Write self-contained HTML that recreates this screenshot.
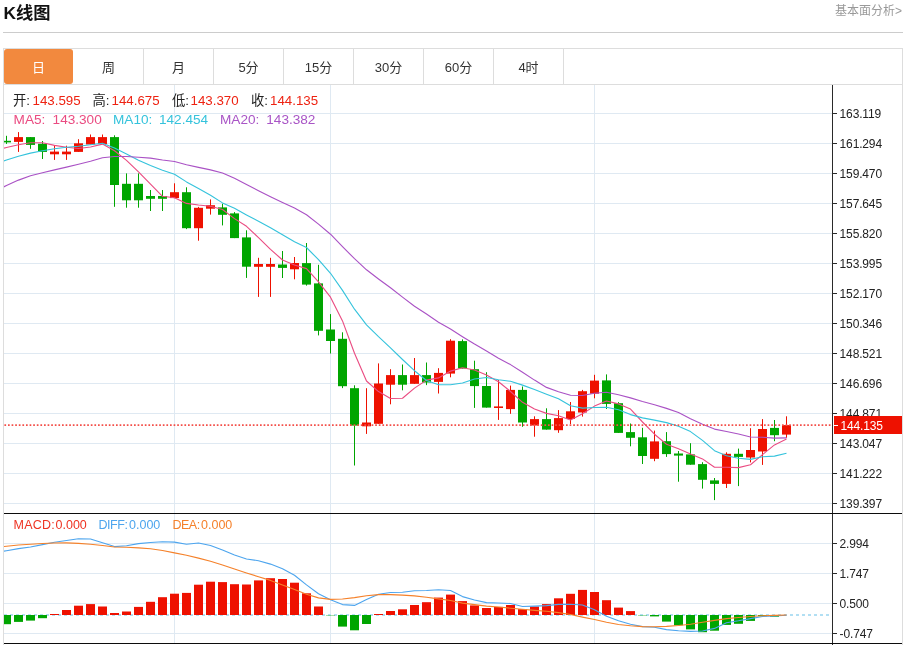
<!DOCTYPE html>
<html lang="zh-CN"><head><meta charset="utf-8"><title>K线图</title>
<style>
html,body{margin:0;padding:0;background:#fff;}
body{width:908px;height:645px;position:relative;overflow:hidden;font-family:"Liberation Sans","Noto Sans CJK SC",sans-serif;}
.abs{position:absolute;white-space:nowrap;}
.title{left:3.5px;top:0.5px;font-size:17.3px;font-weight:bold;color:#111;line-height:24px;}
.more{right:6px;top:2px;font-size:12px;color:#999;line-height:18px;}
.hr{left:3px;top:32px;width:900px;height:1px;background:#ccc;}
.box{left:3px;top:48px;width:900px;height:597px;border:1px solid #ddd;border-bottom:none;box-sizing:border-box;}
.tabs{left:4px;top:49px;width:898px;height:35px;border-bottom:1px solid #ddd;}
.tab{position:absolute;top:0;width:70px;height:35px;line-height:37px;text-align:center;font-size:13px;color:#333;border-right:1px solid #ddd;box-sizing:border-box;}
.tab.on{background:#f2893e;color:#fff;border-radius:3px;border-right:none;width:69px;}
.lg{font-size:13.3px;line-height:16px;}
.lgb{font-size:13.6px;line-height:16px;}
.lg2{font-size:12.5px;line-height:16px;}
</style></head><body>
<div class="abs title">K线图</div>
<div class="abs more">基本面分析&gt;</div>
<div class="abs hr"></div>
<div class="abs box"></div>
<div class="abs tabs">
<div class="tab on" style="left:0">日</div>
<div class="tab" style="left:70px">周</div>
<div class="tab" style="left:140px">月</div>
<div class="tab" style="left:210px">5分</div>
<div class="tab" style="left:280px">15分</div>
<div class="tab" style="left:350px">30分</div>
<div class="tab" style="left:420px">60分</div>
<div class="tab" style="left:490px">4时</div>
</div>
<svg width="908" height="645" viewBox="0 0 908 645" style="position:absolute;left:0;top:0">
<defs><clipPath id="cp"><rect x="4" y="85" width="828" height="560"/></clipPath></defs>
<g shape-rendering="crispEdges" stroke="#dfe9f2" stroke-width="1">
<line x1="4" y1="113.5" x2="832" y2="113.5"/>
<line x1="4" y1="143.5" x2="832" y2="143.5"/>
<line x1="4" y1="173.5" x2="832" y2="173.5"/>
<line x1="4" y1="203.5" x2="832" y2="203.5"/>
<line x1="4" y1="233.5" x2="832" y2="233.5"/>
<line x1="4" y1="263.5" x2="832" y2="263.5"/>
<line x1="4" y1="293.5" x2="832" y2="293.5"/>
<line x1="4" y1="323.5" x2="832" y2="323.5"/>
<line x1="4" y1="353.5" x2="832" y2="353.5"/>
<line x1="4" y1="383.5" x2="832" y2="383.5"/>
<line x1="4" y1="413.5" x2="832" y2="413.5"/>
<line x1="4" y1="443.5" x2="832" y2="443.5"/>
<line x1="4" y1="473.5" x2="832" y2="473.5"/>
<line x1="4" y1="503.5" x2="832" y2="503.5"/>
<line x1="4" y1="543.5" x2="832" y2="543.5"/>
<line x1="4" y1="573.5" x2="832" y2="573.5"/>
<line x1="4" y1="603.5" x2="832" y2="603.5"/>
<line x1="4" y1="633.5" x2="832" y2="633.5"/>
<line x1="174.5" y1="85" x2="174.5" y2="643"/>
<line x1="330.5" y1="85" x2="330.5" y2="643"/>
<line x1="594.5" y1="85" x2="594.5" y2="643"/>
</g>
<line x1="4" y1="615" x2="832" y2="615" stroke="#b2dff3" stroke-width="2" stroke-dasharray="3 3" shape-rendering="crispEdges"/>
<g clip-path="url(#cp)">
<rect x="6" y="135.8" width="1" height="8.1" fill="#00a500"/>
<rect x="2" y="140.8" width="9" height="1.6" fill="#00a500"/>
<rect x="18" y="132.1" width="1" height="19.8" fill="#ee1100"/>
<rect x="14" y="137.1" width="9" height="4.8" fill="#ee1100"/>
<rect x="30" y="137.1" width="1" height="11.7" fill="#00a500"/>
<rect x="26" y="137.1" width="9" height="7.8" fill="#00a500"/>
<rect x="42" y="141.0" width="1" height="18.0" fill="#00a500"/>
<rect x="38" y="143.8" width="9" height="8.1" fill="#00a500"/>
<rect x="54" y="145.7" width="1" height="14.2" fill="#ee1100"/>
<rect x="50" y="151.6" width="9" height="2.7" fill="#ee1100"/>
<rect x="66" y="145.7" width="1" height="14.2" fill="#ee1100"/>
<rect x="62" y="151.6" width="9" height="2.7" fill="#ee1100"/>
<rect x="78" y="139.2" width="1" height="12.7" fill="#ee1100"/>
<rect x="74" y="143.3" width="9" height="8.6" fill="#ee1100"/>
<rect x="90" y="134.5" width="1" height="10.0" fill="#ee1100"/>
<rect x="86" y="137.1" width="9" height="7.4" fill="#ee1100"/>
<rect x="102" y="134.5" width="1" height="9.6" fill="#ee1100"/>
<rect x="98" y="137.1" width="9" height="7.0" fill="#ee1100"/>
<rect x="114" y="135.3" width="1" height="71.5" fill="#00a500"/>
<rect x="110" y="137.1" width="9" height="47.9" fill="#00a500"/>
<rect x="126" y="173.4" width="1" height="34.3" fill="#00a500"/>
<rect x="122" y="183.8" width="9" height="16.5" fill="#00a500"/>
<rect x="138" y="173.4" width="1" height="34.3" fill="#00a500"/>
<rect x="134" y="183.8" width="9" height="16.5" fill="#00a500"/>
<rect x="150" y="190.0" width="1" height="21.0" fill="#00a500"/>
<rect x="146" y="196.0" width="9" height="2.8" fill="#00a500"/>
<rect x="162" y="190.0" width="1" height="21.0" fill="#00a500"/>
<rect x="158" y="196.0" width="9" height="2.8" fill="#00a500"/>
<rect x="174" y="183.3" width="1" height="14.8" fill="#ee1100"/>
<rect x="170" y="192.2" width="9" height="5.9" fill="#ee1100"/>
<rect x="186" y="187.3" width="1" height="41.8" fill="#00a500"/>
<rect x="182" y="192.2" width="9" height="36.0" fill="#00a500"/>
<rect x="198" y="206.9" width="1" height="33.8" fill="#ee1100"/>
<rect x="194" y="207.8" width="9" height="20.4" fill="#ee1100"/>
<rect x="210" y="199.4" width="1" height="15.2" fill="#ee1100"/>
<rect x="206" y="205.2" width="9" height="3.5" fill="#ee1100"/>
<rect x="222" y="203.7" width="1" height="21.7" fill="#00a500"/>
<rect x="218" y="207.4" width="9" height="7.4" fill="#00a500"/>
<rect x="234" y="212.1" width="1" height="26.0" fill="#00a500"/>
<rect x="230" y="213.4" width="9" height="24.7" fill="#00a500"/>
<rect x="246" y="230.3" width="1" height="47.6" fill="#00a500"/>
<rect x="242" y="237.4" width="9" height="29.3" fill="#00a500"/>
<rect x="258" y="257.8" width="1" height="39.1" fill="#ee1100"/>
<rect x="254" y="264.0" width="9" height="2.8" fill="#ee1100"/>
<rect x="270" y="257.8" width="1" height="39.1" fill="#ee1100"/>
<rect x="266" y="264.0" width="9" height="2.8" fill="#ee1100"/>
<rect x="282" y="251.0" width="1" height="27.0" fill="#00a500"/>
<rect x="278" y="264.5" width="9" height="3.4" fill="#00a500"/>
<rect x="294" y="257.0" width="1" height="22.3" fill="#ee1100"/>
<rect x="290" y="263.0" width="9" height="6.3" fill="#ee1100"/>
<rect x="306" y="243.0" width="1" height="42.6" fill="#00a500"/>
<rect x="302" y="263.1" width="9" height="21.5" fill="#00a500"/>
<rect x="318" y="264.8" width="1" height="70.6" fill="#00a500"/>
<rect x="314" y="283.4" width="9" height="47.4" fill="#00a500"/>
<rect x="330" y="314.1" width="1" height="39.4" fill="#00a500"/>
<rect x="326" y="329.5" width="9" height="11.5" fill="#00a500"/>
<rect x="342" y="332.3" width="1" height="55.8" fill="#00a500"/>
<rect x="338" y="338.8" width="9" height="47.4" fill="#00a500"/>
<rect x="354" y="385.3" width="1" height="80.2" fill="#00a500"/>
<rect x="350" y="388.2" width="9" height="37.4" fill="#00a500"/>
<rect x="366" y="388.2" width="1" height="45.7" fill="#ee1100"/>
<rect x="362" y="422.5" width="9" height="3.8" fill="#ee1100"/>
<rect x="378" y="363.4" width="1" height="60.4" fill="#ee1100"/>
<rect x="374" y="383.5" width="9" height="40.3" fill="#ee1100"/>
<rect x="390" y="369.2" width="1" height="35.1" fill="#ee1100"/>
<rect x="386" y="375.1" width="9" height="9.6" fill="#ee1100"/>
<rect x="402" y="364.5" width="1" height="25.8" fill="#00a500"/>
<rect x="398" y="375.1" width="9" height="9.6" fill="#00a500"/>
<rect x="414" y="358.0" width="1" height="25.8" fill="#ee1100"/>
<rect x="410" y="375.1" width="9" height="8.7" fill="#ee1100"/>
<rect x="426" y="362.5" width="1" height="22.6" fill="#00a500"/>
<rect x="422" y="375.1" width="9" height="7.4" fill="#00a500"/>
<rect x="438" y="368.2" width="1" height="25.3" fill="#ee1100"/>
<rect x="434" y="372.9" width="9" height="9.0" fill="#ee1100"/>
<rect x="450" y="339.2" width="1" height="38.1" fill="#ee1100"/>
<rect x="446" y="340.7" width="9" height="32.9" fill="#ee1100"/>
<rect x="462" y="339.4" width="1" height="29.1" fill="#00a500"/>
<rect x="458" y="341.1" width="9" height="27.4" fill="#00a500"/>
<rect x="474" y="360.7" width="1" height="47.2" fill="#00a500"/>
<rect x="470" y="369.2" width="9" height="16.9" fill="#00a500"/>
<rect x="486" y="372.2" width="1" height="35.4" fill="#00a500"/>
<rect x="482" y="386.0" width="9" height="21.6" fill="#00a500"/>
<rect x="498" y="380.0" width="1" height="39.9" fill="#ee1100"/>
<rect x="494" y="406.4" width="9" height="1.6" fill="#ee1100"/>
<rect x="510" y="385.6" width="1" height="28.2" fill="#ee1100"/>
<rect x="506" y="389.9" width="9" height="19.2" fill="#ee1100"/>
<rect x="522" y="386.5" width="1" height="40.3" fill="#00a500"/>
<rect x="518" y="389.9" width="9" height="32.6" fill="#00a500"/>
<rect x="534" y="416.3" width="1" height="20.4" fill="#ee1100"/>
<rect x="530" y="419.1" width="9" height="6.4" fill="#ee1100"/>
<rect x="546" y="408.3" width="1" height="21.3" fill="#00a500"/>
<rect x="542" y="419.1" width="9" height="10.5" fill="#00a500"/>
<rect x="558" y="410.1" width="1" height="22.7" fill="#ee1100"/>
<rect x="554" y="418.1" width="9" height="12.1" fill="#ee1100"/>
<rect x="570" y="402.0" width="1" height="22.0" fill="#ee1100"/>
<rect x="566" y="411.3" width="9" height="7.7" fill="#ee1100"/>
<rect x="582" y="389.9" width="1" height="26.7" fill="#ee1100"/>
<rect x="578" y="391.2" width="9" height="21.3" fill="#ee1100"/>
<rect x="594" y="374.8" width="1" height="23.5" fill="#ee1100"/>
<rect x="590" y="380.6" width="9" height="13.1" fill="#ee1100"/>
<rect x="606" y="374.4" width="1" height="34.6" fill="#00a500"/>
<rect x="602" y="380.4" width="9" height="23.5" fill="#00a500"/>
<rect x="618" y="402.1" width="1" height="30.8" fill="#00a500"/>
<rect x="614" y="403.2" width="9" height="29.7" fill="#00a500"/>
<rect x="630" y="423.5" width="1" height="22.8" fill="#00a500"/>
<rect x="626" y="432.1" width="9" height="5.7" fill="#00a500"/>
<rect x="642" y="427.8" width="1" height="36.2" fill="#00a500"/>
<rect x="638" y="437.3" width="9" height="18.7" fill="#00a500"/>
<rect x="654" y="430.6" width="1" height="30.6" fill="#ee1100"/>
<rect x="650" y="441.4" width="9" height="17.4" fill="#ee1100"/>
<rect x="666" y="432.1" width="1" height="24.8" fill="#00a500"/>
<rect x="662" y="441.2" width="9" height="12.9" fill="#00a500"/>
<rect x="678" y="451.0" width="1" height="30.7" fill="#00a500"/>
<rect x="674" y="453.5" width="9" height="2.1" fill="#00a500"/>
<rect x="690" y="443.2" width="1" height="21.5" fill="#00a500"/>
<rect x="686" y="454.4" width="9" height="10.3" fill="#00a500"/>
<rect x="702" y="462.2" width="1" height="26.4" fill="#00a500"/>
<rect x="698" y="464.1" width="9" height="15.7" fill="#00a500"/>
<rect x="714" y="478.0" width="1" height="22.1" fill="#00a500"/>
<rect x="710" y="480.4" width="9" height="3.5" fill="#00a500"/>
<rect x="726" y="452.3" width="1" height="35.7" fill="#ee1100"/>
<rect x="722" y="453.8" width="9" height="30.1" fill="#ee1100"/>
<rect x="738" y="448.6" width="1" height="37.5" fill="#00a500"/>
<rect x="734" y="453.8" width="9" height="3.1" fill="#00a500"/>
<rect x="750" y="428.2" width="1" height="34.2" fill="#ee1100"/>
<rect x="746" y="450.0" width="9" height="7.5" fill="#ee1100"/>
<rect x="762" y="419.1" width="1" height="45.8" fill="#ee1100"/>
<rect x="758" y="429.0" width="9" height="22.5" fill="#ee1100"/>
<rect x="774" y="420.0" width="1" height="21.2" fill="#00a500"/>
<rect x="770" y="427.9" width="9" height="7.3" fill="#00a500"/>
<rect x="786" y="416.3" width="1" height="21.5" fill="#ee1100"/>
<rect x="782" y="425.1" width="9" height="9.5" fill="#ee1100"/>
</g>
<g clip-path="url(#cp)" shape-rendering="crispEdges">
<rect x="2" y="615" width="9" height="9.2" fill="#00a500" shape-rendering="auto"/>
<rect x="14" y="615" width="9" height="6.9" fill="#00a500" shape-rendering="auto"/>
<rect x="26" y="615" width="9" height="5.6" fill="#00a500" shape-rendering="auto"/>
<rect x="38" y="615" width="9" height="3.2" fill="#00a500" shape-rendering="auto"/>
<rect x="50" y="614.0" width="9" height="1.0" fill="#ee1100" shape-rendering="auto"/>
<rect x="62" y="610.0" width="9" height="5.0" fill="#ee1100" shape-rendering="auto"/>
<rect x="74" y="605.7" width="9" height="9.3" fill="#ee1100" shape-rendering="auto"/>
<rect x="86" y="604.1" width="9" height="10.9" fill="#ee1100" shape-rendering="auto"/>
<rect x="98" y="606.5" width="9" height="8.5" fill="#ee1100" shape-rendering="auto"/>
<rect x="110" y="613.0" width="9" height="2.0" fill="#ee1100" shape-rendering="auto"/>
<rect x="122" y="611.5" width="9" height="3.5" fill="#ee1100" shape-rendering="auto"/>
<rect x="134" y="606.9" width="9" height="8.1" fill="#ee1100" shape-rendering="auto"/>
<rect x="146" y="601.8" width="9" height="13.2" fill="#ee1100" shape-rendering="auto"/>
<rect x="158" y="597.2" width="9" height="17.8" fill="#ee1100" shape-rendering="auto"/>
<rect x="170" y="593.7" width="9" height="21.3" fill="#ee1100" shape-rendering="auto"/>
<rect x="182" y="592.9" width="9" height="22.1" fill="#ee1100" shape-rendering="auto"/>
<rect x="194" y="584.7" width="9" height="30.3" fill="#ee1100" shape-rendering="auto"/>
<rect x="206" y="581.7" width="9" height="33.3" fill="#ee1100" shape-rendering="auto"/>
<rect x="218" y="582.1" width="9" height="32.9" fill="#ee1100" shape-rendering="auto"/>
<rect x="230" y="584.2" width="9" height="30.8" fill="#ee1100" shape-rendering="auto"/>
<rect x="242" y="584.5" width="9" height="30.5" fill="#ee1100" shape-rendering="auto"/>
<rect x="254" y="580.4" width="9" height="34.6" fill="#ee1100" shape-rendering="auto"/>
<rect x="266" y="578.2" width="9" height="36.8" fill="#ee1100" shape-rendering="auto"/>
<rect x="278" y="579.0" width="9" height="36.0" fill="#ee1100" shape-rendering="auto"/>
<rect x="290" y="582.7" width="9" height="32.3" fill="#ee1100" shape-rendering="auto"/>
<rect x="302" y="593.3" width="9" height="21.7" fill="#ee1100" shape-rendering="auto"/>
<rect x="314" y="606.5" width="9" height="8.5" fill="#ee1100" shape-rendering="auto"/>
<rect x="326" y="615" width="9" height="1" fill="#00a500" opacity="0.35"/>
<rect x="338" y="615" width="9" height="11.6" fill="#00a500" shape-rendering="auto"/>
<rect x="350" y="615" width="9" height="15.3" fill="#00a500" shape-rendering="auto"/>
<rect x="362" y="615" width="9" height="9.0" fill="#00a500" shape-rendering="auto"/>
<rect x="374" y="614.0" width="9" height="1.0" fill="#ee1100" shape-rendering="auto"/>
<rect x="386" y="611.0" width="9" height="4.0" fill="#ee1100" shape-rendering="auto"/>
<rect x="398" y="609.3" width="9" height="5.7" fill="#ee1100" shape-rendering="auto"/>
<rect x="410" y="605.0" width="9" height="10.0" fill="#ee1100" shape-rendering="auto"/>
<rect x="422" y="602.2" width="9" height="12.8" fill="#ee1100" shape-rendering="auto"/>
<rect x="434" y="597.6" width="9" height="17.4" fill="#ee1100" shape-rendering="auto"/>
<rect x="446" y="594.6" width="9" height="20.4" fill="#ee1100" shape-rendering="auto"/>
<rect x="458" y="601.1" width="9" height="13.9" fill="#ee1100" shape-rendering="auto"/>
<rect x="470" y="605.4" width="9" height="9.6" fill="#ee1100" shape-rendering="auto"/>
<rect x="482" y="608.0" width="9" height="7.0" fill="#ee1100" shape-rendering="auto"/>
<rect x="494" y="606.9" width="9" height="8.1" fill="#ee1100" shape-rendering="auto"/>
<rect x="506" y="605.0" width="9" height="10.0" fill="#ee1100" shape-rendering="auto"/>
<rect x="518" y="609.1" width="9" height="5.9" fill="#ee1100" shape-rendering="auto"/>
<rect x="530" y="606.5" width="9" height="8.5" fill="#ee1100" shape-rendering="auto"/>
<rect x="542" y="604.1" width="9" height="10.9" fill="#ee1100" shape-rendering="auto"/>
<rect x="554" y="598.3" width="9" height="16.7" fill="#ee1100" shape-rendering="auto"/>
<rect x="566" y="593.8" width="9" height="21.2" fill="#ee1100" shape-rendering="auto"/>
<rect x="578" y="589.9" width="9" height="25.1" fill="#ee1100" shape-rendering="auto"/>
<rect x="590" y="592.0" width="9" height="23.0" fill="#ee1100" shape-rendering="auto"/>
<rect x="602" y="600.2" width="9" height="14.8" fill="#ee1100" shape-rendering="auto"/>
<rect x="614" y="607.6" width="9" height="7.4" fill="#ee1100" shape-rendering="auto"/>
<rect x="626" y="611.1" width="9" height="3.9" fill="#ee1100" shape-rendering="auto"/>
<rect x="638" y="615" width="9" height="1" fill="#00a500" opacity="0.35"/>
<rect x="650" y="615" width="9" height="1.4" fill="#00a500" shape-rendering="auto"/>
<rect x="662" y="615" width="9" height="6.6" fill="#00a500" shape-rendering="auto"/>
<rect x="674" y="615" width="9" height="10.3" fill="#00a500" shape-rendering="auto"/>
<rect x="686" y="615" width="9" height="14.4" fill="#00a500" shape-rendering="auto"/>
<rect x="698" y="615" width="9" height="17.2" fill="#00a500" shape-rendering="auto"/>
<rect x="710" y="615" width="9" height="15.7" fill="#00a500" shape-rendering="auto"/>
<rect x="722" y="615" width="9" height="9.9" fill="#00a500" shape-rendering="auto"/>
<rect x="734" y="615" width="9" height="8.8" fill="#00a500" shape-rendering="auto"/>
<rect x="746" y="615" width="9" height="5.9" fill="#00a500" shape-rendering="auto"/>
<rect x="758" y="615" width="9" height="1.2" fill="#00a500" shape-rendering="auto"/>
<rect x="770" y="615" width="9" height="1.7" fill="#00a500" shape-rendering="auto"/>
</g>
<g clip-path="url(#cp)">
<polyline points="-5.5,150.5 6.5,147.5 18.5,144.7 30.5,142.7 42.5,142.7 54.5,145.4 66.5,147.3 78.5,148.5 90.5,147.0 102.5,144.1 114.5,150.8 126.5,160.4 138.5,171.8 150.5,184.1 162.5,196.3 174.5,197.8 186.5,203.4 198.5,205.0 210.5,206.3 222.5,209.5 234.5,218.6 246.5,226.3 258.5,237.6 270.5,249.3 282.5,260.0 294.5,265.0 306.5,268.6 318.5,281.9 330.5,297.2 342.5,320.9 354.5,353.3 366.5,381.0 378.5,391.6 390.5,398.5 402.5,398.2 414.5,388.1 426.5,380.1 438.5,377.9 450.5,371.1 462.5,367.8 474.5,370.0 486.5,375.0 498.5,381.7 510.5,391.5 522.5,402.3 534.5,409.0 546.5,413.4 558.5,415.7 570.5,420.0 582.5,413.8 594.5,406.1 606.5,401.0 618.5,403.9 630.5,409.1 642.5,422.0 654.5,434.2 666.5,444.2 678.5,448.7 690.5,454.1 702.5,458.9 714.5,467.3 726.5,467.3 738.5,467.6 750.5,464.7 762.5,454.6 774.5,444.9 786.5,439.1" fill="none" stroke="#ea4c82" stroke-width="1.12" stroke-linejoin="round"/>
<polyline points="-5.5,164.0 6.5,160.0 18.5,156.3 30.5,153.1 42.5,150.7 54.5,148.8 66.5,147.3 78.5,146.2 90.5,144.7 102.5,143.3 114.5,148.1 126.5,153.9 138.5,160.2 150.5,165.6 162.5,170.2 174.5,174.3 186.5,181.9 198.5,188.4 210.5,195.2 222.5,202.9 234.5,208.2 246.5,214.9 258.5,221.3 270.5,227.8 282.5,234.7 294.5,241.8 306.5,247.5 318.5,259.7 330.5,273.3 342.5,290.4 354.5,309.2 366.5,324.8 378.5,336.7 390.5,347.8 402.5,359.5 414.5,370.7 426.5,380.5 438.5,384.8 450.5,384.8 462.5,383.0 474.5,379.0 486.5,377.5 498.5,379.8 510.5,381.3 522.5,385.1 534.5,389.5 546.5,394.2 558.5,398.7 570.5,405.8 582.5,408.1 594.5,407.5 606.5,407.2 618.5,409.8 630.5,414.6 642.5,417.9 654.5,420.1 666.5,422.6 678.5,426.3 690.5,431.6 702.5,440.4 714.5,450.7 726.5,455.8 738.5,458.2 750.5,459.4 762.5,456.7 774.5,456.1 786.5,453.2" fill="none" stroke="#35c3dc" stroke-width="1.12" stroke-linejoin="round"/>
<polyline points="-5.5,191.5 6.5,185.5 18.5,180.1 30.5,175.8 42.5,172.7 54.5,169.9 66.5,167.1 78.5,164.3 90.5,161.3 102.5,157.8 114.5,156.5 126.5,156.5 138.5,157.2 150.5,158.1 162.5,160.0 174.5,161.5 186.5,164.7 198.5,167.4 210.5,169.9 222.5,173.0 234.5,178.2 246.5,184.4 258.5,190.7 270.5,196.7 282.5,202.5 294.5,208.1 306.5,214.7 318.5,224.1 330.5,234.2 342.5,246.7 354.5,258.7 366.5,269.8 378.5,279.0 390.5,287.8 402.5,297.1 414.5,306.3 426.5,314.0 438.5,322.2 450.5,329.0 462.5,336.7 474.5,344.1 486.5,351.1 498.5,358.3 510.5,364.6 522.5,372.3 534.5,380.1 546.5,387.4 558.5,391.7 570.5,395.3 582.5,395.5 594.5,393.3 606.5,392.3 618.5,394.8 630.5,397.9 642.5,401.5 654.5,404.8 666.5,408.4 678.5,412.5 690.5,418.7 702.5,424.2 714.5,429.1 726.5,431.5 738.5,434.0 750.5,437.0 762.5,437.3 774.5,438.1 786.5,437.9" fill="none" stroke="#aa52c5" stroke-width="1.12" stroke-linejoin="round"/>
<polyline points="-5.5,552.8 6.5,550.7 18.5,548.6 30.5,547.0 42.5,544.6 54.5,542.3 66.5,540.5 78.5,538.7 90.5,539.0 102.5,542.7 114.5,546.6 126.5,545.8 138.5,543.6 150.5,542.5 162.5,541.7 174.5,542.1 186.5,544.2 198.5,543.0 210.5,545.5 222.5,550.1 234.5,555.1 246.5,559.0 258.5,560.7 270.5,564.1 282.5,568.7 294.5,575.2 306.5,584.9 318.5,593.8 330.5,599.8 342.5,604.6 354.5,605.4 366.5,599.4 378.5,594.2 390.5,592.5 402.5,592.2 414.5,590.7 426.5,590.5 438.5,589.7 450.5,590.5 462.5,596.6 474.5,600.0 486.5,602.6 498.5,603.0 510.5,603.5 522.5,606.5 534.5,606.1 546.5,605.6 558.5,604.4 570.5,604.3 582.5,605.0 594.5,609.7 606.5,616.2 618.5,620.8 630.5,624.2 642.5,626.6 654.5,627.3 666.5,629.6 678.5,630.7 690.5,631.4 702.5,631.0 714.5,628.4 726.5,622.7 738.5,620.8 750.5,618.6 762.5,616.5 774.5,616.0 786.5,615.2" fill="none" stroke="#4da5ee" stroke-width="1.1" stroke-linejoin="round"/>
<polyline points="-5.5,547.4 6.5,546.2 18.5,545.0 30.5,544.2 42.5,543.5 54.5,543.0 66.5,542.9 78.5,543.4 90.5,544.3 102.5,545.5 114.5,547.0 126.5,547.3 138.5,547.9 150.5,548.8 162.5,550.5 174.5,552.9 186.5,555.3 198.5,558.1 210.5,561.3 222.5,565.0 234.5,569.1 246.5,573.0 258.5,576.7 270.5,580.4 282.5,585.1 294.5,589.6 306.5,594.2 318.5,597.9 330.5,599.4 342.5,599.0 354.5,597.6 366.5,595.7 378.5,594.6 390.5,594.6 402.5,595.1 414.5,595.9 426.5,597.2 438.5,598.9 450.5,600.5 462.5,603.1 474.5,604.6 486.5,606.1 498.5,607.0 510.5,608.2 522.5,609.3 534.5,610.4 546.5,611.3 558.5,612.6 570.5,614.5 582.5,617.1 594.5,619.5 606.5,622.3 618.5,624.5 630.5,625.8 642.5,626.6 654.5,626.8 666.5,626.4 678.5,625.5 690.5,624.2 702.5,622.3 714.5,620.4 726.5,618.6 738.5,617.5 750.5,616.5 762.5,615.8 774.5,615.4 786.5,615.0" fill="none" stroke="#f5812a" stroke-width="1.1" stroke-linejoin="round"/>
</g>
<line x1="4.4" y1="425.1" x2="831" y2="425.1" stroke="#f3504a" stroke-width="1.8" stroke-dasharray="1.7 1.9"/>
<g shape-rendering="crispEdges">
<rect x="832" y="85" width="1" height="560" fill="#2a2a2a"/>
<rect x="4" y="513" width="898" height="1" fill="#0c0c0c"/>
<rect x="4" y="643" width="898" height="1" fill="#0c0c0c"/>
<rect x="833" y="113" width="4" height="1" fill="#2a2a2a"/>
<rect x="833" y="143" width="4" height="1" fill="#2a2a2a"/>
<rect x="833" y="173" width="4" height="1" fill="#2a2a2a"/>
<rect x="833" y="203" width="4" height="1" fill="#2a2a2a"/>
<rect x="833" y="233" width="4" height="1" fill="#2a2a2a"/>
<rect x="833" y="263" width="4" height="1" fill="#2a2a2a"/>
<rect x="833" y="293" width="4" height="1" fill="#2a2a2a"/>
<rect x="833" y="323" width="4" height="1" fill="#2a2a2a"/>
<rect x="833" y="353" width="4" height="1" fill="#2a2a2a"/>
<rect x="833" y="383" width="4" height="1" fill="#2a2a2a"/>
<rect x="833" y="413" width="4" height="1" fill="#2a2a2a"/>
<rect x="833" y="443" width="4" height="1" fill="#2a2a2a"/>
<rect x="833" y="473" width="4" height="1" fill="#2a2a2a"/>
<rect x="833" y="503" width="4" height="1" fill="#2a2a2a"/>
<rect x="833" y="543" width="4" height="1" fill="#2a2a2a"/>
<rect x="833" y="573" width="4" height="1" fill="#2a2a2a"/>
<rect x="833" y="603" width="4" height="1" fill="#2a2a2a"/>
<rect x="833" y="633" width="4" height="1" fill="#2a2a2a"/>
<rect x="834" y="416" width="68" height="18" fill="#ee1100"/>
<rect x="834" y="425" width="4" height="1" fill="#fff"/>
</g>
<g font-family="'Liberation Sans',sans-serif" font-size="12" fill="#222" letter-spacing="-0.15">
<text x="839.6" y="117.5">163.119</text>
<text x="839.6" y="147.5">161.294</text>
<text x="839.6" y="177.5">159.470</text>
<text x="839.6" y="207.5">157.645</text>
<text x="839.6" y="237.5">155.820</text>
<text x="839.6" y="267.5">153.995</text>
<text x="839.6" y="297.5">152.170</text>
<text x="839.6" y="327.5">150.346</text>
<text x="839.6" y="357.5">148.521</text>
<text x="839.6" y="387.5">146.696</text>
<text x="839.6" y="417.5">144.871</text>
<text x="839.6" y="447.5">143.047</text>
<text x="839.6" y="477.5">141.222</text>
<text x="839.6" y="507.5">139.397</text>
<text x="839.6" y="547.5">2.994</text>
<text x="839.6" y="577.5">1.747</text>
<text x="839.6" y="607.5">0.500</text>
<text x="839.6" y="637.5">-0.747</text>
</g>
<rect x="834" y="416" width="68" height="18" fill="#ee1100" shape-rendering="crispEdges"/>
<rect x="834" y="425" width="4" height="1" fill="#fff" shape-rendering="crispEdges"/>
<text x="840.5" y="429.5" font-family="'Liberation Sans',sans-serif" font-size="12" fill="#fff" letter-spacing="-0.15">144.135</text>
</svg>
<div class="abs lg" style="left:13px;top:93px;color:#222">开:</div><div class="abs lg" style="left:32.5px;top:93px;color:#ee2211">143.595</div>
<div class="abs lg" style="left:92.5px;top:93px;color:#222">高:</div><div class="abs lg" style="left:111.5px;top:93px;color:#ee2211">144.675</div>
<div class="abs lg" style="left:172px;top:93px;color:#222">低:</div><div class="abs lg" style="left:190.5px;top:93px;color:#ee2211">143.370</div>
<div class="abs lg" style="left:251px;top:93px;color:#222">收:</div><div class="abs lg" style="left:270px;top:93px;color:#ee2211">144.135</div>
<div class="abs lgb" style="left:13.6px;top:112px;color:#ea4c82">MA5:</div><div class="abs lgb" style="left:52.6px;top:112px;color:#ea4c82">143.300</div>
<div class="abs lgb" style="left:113px;top:112px;color:#35c3dc">MA10:</div><div class="abs lgb" style="left:159px;top:112px;color:#35c3dc">142.454</div>
<div class="abs lgb" style="left:220px;top:112px;color:#a955c6">MA20:</div><div class="abs lgb" style="left:266.3px;top:112px;color:#a955c6">143.382</div>
<div class="abs lg2" style="left:13.5px;top:517px;color:#ee3322;letter-spacing:0.25px">MACD:</div><div class="abs lg2" style="left:55.5px;top:517px;color:#ee3322">0.000</div>
<div class="abs lg2" style="left:98.5px;top:517px;color:#4da5ee;letter-spacing:-0.45px">DIFF:</div><div class="abs lg2" style="left:129px;top:517px;color:#4da5ee">0.000</div>
<div class="abs lg2" style="left:172.5px;top:517px;color:#f5812a;letter-spacing:-0.5px">DEA:</div><div class="abs lg2" style="left:201px;top:517px;color:#f5812a">0.000</div>
</body></html>
